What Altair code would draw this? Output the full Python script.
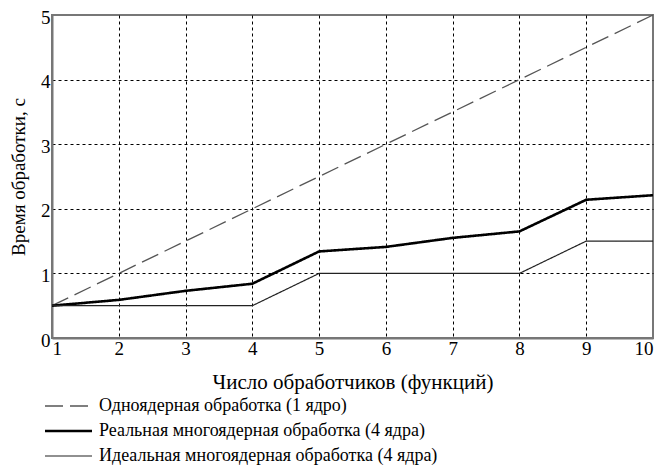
import altair as alt
import pandas as pd

x_vals = [1, 2, 3, 4, 5, 6, 7, 8, 9, 10]
single = [0.5, 1.0, 1.5, 2.0, 2.5, 3.0, 3.5, 4.0, 4.5, 5.0]
real = [0.5, 0.59, 0.73, 0.84, 1.34, 1.41, 1.55, 1.65, 2.14, 2.21]
ideal = [0.5, 0.5, 0.5, 0.5, 1.0, 1.0, 1.0, 1.0, 1.5, 1.5]
names = [
    "Одноядерная обработка (1 ядро)",
    "Реальная многоядерная обработка (4 ядра)",
    "Идеальная многоядерная обработка (4 ядра)",
]

rows = []
for name, series in zip(names, [single, real, ideal]):
    for xv, yv in zip(x_vals, series):
        rows.append({"x": xv, "y": yv, "series": name})
df = pd.DataFrame(rows)

FONT = "Liberation Serif"
edge_hide_x = {"condition": {"test": "datum.value <= 1 || datum.value >= 10", "value": 0}, "value": 1}
edge_hide_y = {"condition": {"test": "datum.value <= 0 || datum.value >= 5", "value": 0}, "value": 1}

legend = alt.Legend(
    title=None,
    orient="none",
    legendX=5,
    legendY=380,
    symbolType="M-2.35,0H2.35",
    symbolSize=400,
    symbolStrokeColor="black",
    labelFont=FONT,
    labelFontSize=18,
    labelColor="black",
    labelLimit=600,
    rowPadding=4.5,
    labelOffset=19,
    padding=0,
)

chart = alt.Chart(df).mark_line().encode(
    x=alt.X(
        "x:Q",
        scale=alt.Scale(domain=[1, 10], nice=False),
        axis=alt.Axis(
            values=x_vals,
            title="Число обработчиков (функций)",
            titleFontSize=21,
            grid=True,
            gridDash=[3, 3],
            gridColor="black",
            gridOpacity=edge_hide_x,
            ticks=False,
            labelPadding=1,
            titlePadding=13,
        ),
    ),
    y=alt.Y(
        "y:Q",
        scale=alt.Scale(domain=[0, 5], nice=False),
        axis=alt.Axis(
            values=[0, 1, 2, 3, 4, 5],
            title="Время обработки, с",
            titleFontSize=19,
            grid=True,
            gridDash=[3, 3],
            gridColor="black",
            gridOpacity=edge_hide_y,
            ticks=False,
            labelPadding=2,
            labelOffset=2,
            titlePadding=12,
        ),
    ),
    color=alt.Color(
        "series:N",
        scale=alt.Scale(type="ordinal", domain=names, range=["#555555", "#000000", "#222222"]),
        legend=legend,
    ),
    strokeDash=alt.StrokeDash(
        "series:N",
        scale=alt.Scale(type="ordinal", domain=names, range=[[18, 7], [1, 0], [1, 0]]),
        legend=legend,
    ),
    strokeWidth=alt.StrokeWidth(
        "series:N",
        scale=alt.Scale(type="ordinal", domain=names, range=[1.3, 2.6, 1.2]),
        legend=legend,
    ),
    order="x:Q",
).properties(
    width=601,
    height=323,
    autosize=alt.AutoSizeParams(type="none"),
    padding={"left": 44, "top": 7, "right": 3, "bottom": 128},
).configure_view(
    stroke="#777777",
    strokeWidth=2,
).configure_axis(
    labelFont=FONT,
    labelFontSize=19,
    labelColor="black",
    titleFont=FONT,
    titleFontWeight="normal",
    titleColor="black",
    domainColor="#777777",
    domainWidth=2,
)

chart.save("out.html", embed_options={"renderer": "svg", "actions": False})
